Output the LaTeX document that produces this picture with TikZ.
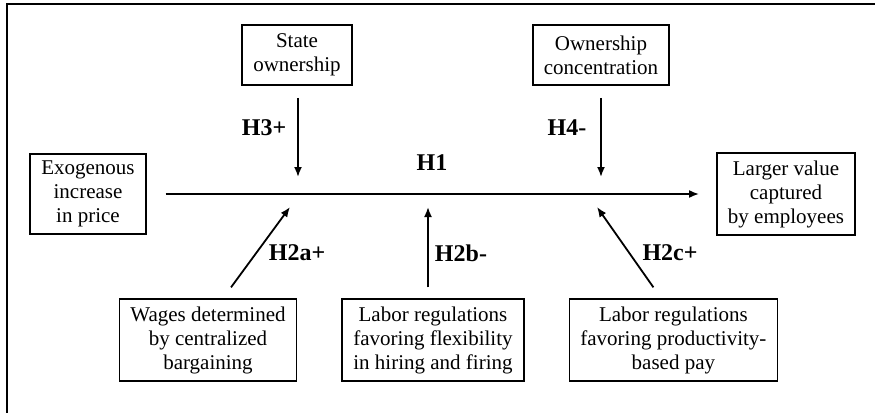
\documentclass[tikz,border=0pt]{standalone}
\usepackage{fontspec}
\setmainfont{Liberation Serif}
\usepackage{tikz}
\usetikzlibrary{arrows.meta, positioning}

\begin{document}
\begin{tikzpicture}[
        x=0.5pt, y=-0.5pt,
        box/.style={rectangle, draw=black, line width=0.9pt, inner xsep=5.5pt, inner ysep=3.6pt, minimum height=30pt, align=center, font=\fontsize{10.5}{12}\selectfont},
        hyp/.style={font=\fontsize{12}{14}\selectfont\bfseries, inner sep=0pt},
        arrow/.style={-{Latex[length=5pt, width=4pt]}, line width=0.9pt},
        node distance=22pt
    ]
        \useasboundingbox (0,0) rectangle (875,413);
        \draw[line width=1pt] (7,413) -- (7,4) -- (875,4);
        % points on the main line
        \coordinate (j1) at (298,195);
        \coordinate (j2) at (601,195);
        \coordinate (j3) at (428,195);
        \node[box] (exo) at (88,194) {Exogenous\\increase\\in price};
        \node[box] (larger) at (786,194) {Larger value\\captured\\by employees};
        \node[box] (state) at (297,55) {State\\ownership};
        \node[box] (conc) at (601,55) {Ownership\\concentration};
        \node[box] (flex) at (433,340) {Labor regulations\\favoring flexibility\\in hiring and firing};
        \node[box, left=of flex] (wages) {Wages determined\\by centralized\\bargaining};
        \node[box, right=of flex] (prod) {Labor regulations\\favoring productivity-\\based pay};
        \draw[arrow, shorten <=9.5pt, shorten >=8.5pt] (exo) -- (larger);
        \draw[arrow, shorten <=6pt] (j1 |- state.south) -- ([yshift=9pt]j1);
        \draw[arrow, shorten <=6pt] (j2 |- conc.south) -- ([yshift=9pt]j2);
        \draw[arrow] ([xshift=11.5pt, yshift=5.5pt]wages.north) -- ([xshift=-4pt, yshift=-6pt]j1);
        \draw[arrow, shorten <=5.5pt] (j3 |- flex.north) -- ([yshift=-6pt]j3);
        \draw[arrow] ([xshift=-10pt, yshift=5.5pt]prod.north) -- ([xshift=-2pt, yshift=-6pt]j2);
        \node[hyp] (h1) at (432,163) {H1};
        \node[hyp] (h3) at (264,128) {H3+};
        \node[hyp] (h4) at (567,128) {H4-};
        \node[hyp] (h2a) at (297,253) {H2a+};
        \node[hyp] (h2b) at (461,253) {H2b-};
        \node[hyp] (h2c) at (670,253) {H2c+};
    \end{tikzpicture}
\end{document}
